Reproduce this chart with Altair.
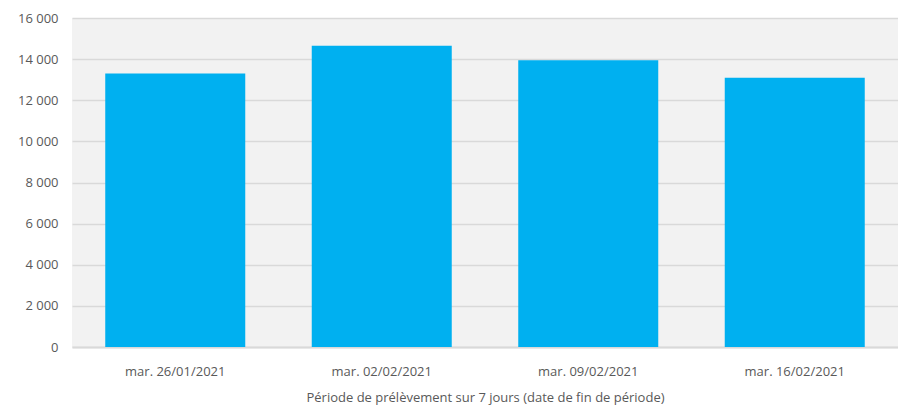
import altair as alt
import pandas as pd

categories = ["mar. 26/01/2021", "mar. 02/02/2021", "mar. 09/02/2021", "mar. 16/02/2021"]
values = [13300, 14650, 13950, 13100]

df = pd.DataFrame({"periode": categories, "valeur": values})

FONT = "Open Sans"
TXT = "#595959"

chart = alt.Chart(df).mark_bar(color="#00B0F0").encode(
    x=alt.X("periode:N", sort=categories,
            title="Période de prélèvement sur 7 jours (date de fin de période)",
            scale=alt.Scale(paddingInner=0.322, paddingOuter=0.161),
            axis=alt.Axis(labelAngle=0, tickSize=0, labelPadding=18,
                          domainColor="#D9D9D9", domainWidth=2,
                          labelFont=FONT, labelFontSize=13, labelColor=TXT,
                          titleFont=FONT, titleFontSize=13, titleColor=TXT,
                          titleFontWeight="normal", titlePadding=13)),
    y=alt.Y("valeur:Q", title=None,
            scale=alt.Scale(domain=[0, 16000], nice=False),
            axis=alt.Axis(values=list(range(0, 16001, 2000)), tickSize=0,
                          domain=False, labelPadding=14,
                          labelExpr="replace(format(datum.value, ','), ',', ' ')",
                          gridColor="#D9D9D9", gridWidth=1.5,
                          labelFont=FONT, labelFontSize=13, labelColor=TXT)),
).properties(
    width=826, height=329,
    background="white",
    autosize=alt.AutoSizeParams(type="none"),
    padding={"left": 64, "top": 10, "right": 0, "bottom": 63},
).configure_view(
    fill="#F2F2F2", stroke=None
)

chart.save("out.html", embed_options={"renderer": "svg", "actions": False})
